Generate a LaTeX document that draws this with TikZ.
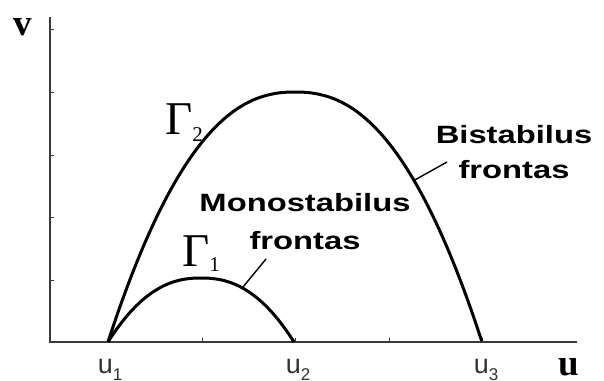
\documentclass[tikz,border=0pt]{standalone}
\usepackage{fontspec}
\setmainfont{Liberation Serif}
\newfontfamily\lsans{Liberation Sans}
\definecolor{axisgray}{HTML}{3A3A3A}
\definecolor{labelgray}{HTML}{333333}
\tikzset{
  axisline/.style={draw=axisgray, line width=2.2pt},
  tickline/.style={draw=axisgray, line width=0.8pt},
  curveline/.style={draw=black, line width=3pt},
  leaderline/.style={draw=black, line width=1.4pt},
  frontlabel/.style={anchor=base, inner sep=0pt, font=\lsans\bfseries\fontsize{25}{25}\selectfont},
  ulabel/.style={anchor=base, inner sep=0pt, text=labelgray, font=\lsans\fontsize{27}{27}\selectfont},
  gammalabel/.style={anchor=base west, inner sep=0pt, font=\fontsize{47}{47}\selectfont},
  axislabel/.style={anchor=base, inner sep=0pt, font=\bfseries\fontsize{37}{37}\selectfont}
}
\newcommand{\wide}[1]{\scalebox{1.31}[1]{#1}}
\begin{document}
\begin{tikzpicture}[x=1pt, y=-1pt]
\useasboundingbox (0,0) rectangle (604,380);
% axes
\coordinate (O) at (50,342);
\coordinate (ytop) at (50,17);
\coordinate (xend) at (577,342);
\draw[axisline] (ytop) -- (O) -- (xend);
% ticks
\foreach \yy in {29,92,155,217,280} \draw[tickline] (50,\yy) -- (54,\yy);
\foreach \xx in {108.5,202,295.5,389,482.5} \draw[tickline] (\xx,342) -- (\xx,338);
% curves
\draw[curveline, line join=round] plot[domain=-1:1, samples=100, smooth] ({295+187*\x}, {342-250*(1-pow(abs(\x),2.3))});
\draw[curveline, line join=round] plot[domain=-1:1, samples=100, smooth] ({201+93*\x}, {342-64*(1-pow(abs(\x),2.3))});
% labels
\node[axislabel] (vlab) at (23,35) {v};
\node[axislabel] (ulab) at (569,375) {u};
\node[ulabel] (u1) at (110,373) {u\raisebox{-7pt}{\fontsize{17}{17}\selectfont 1}};
\node[ulabel] (u2) at (298,373) {u\raisebox{-7pt}{\fontsize{17}{17}\selectfont 2}};
\node[ulabel] (u3) at (486,373) {u\raisebox{-7pt}{\fontsize{17}{17}\selectfont 3}};
\node[gammalabel] (g2) at (165,134) {Γ\raisebox{-7pt}{\fontsize{21}{21}\selectfont 2}};
\node[gammalabel] (g1) at (182,266) {Γ\raisebox{-5pt}{\fontsize{21}{21}\selectfont 1}};
\node[frontlabel] (mono1) at (305,211) {\wide{Monostabilus}};
\node[frontlabel] (mono2) at (305,249) {\wide{frontas}};
\node[frontlabel] (bi1) at (514,143) {\wide{Bistabilus}};
\node[frontlabel] (bi2) at (514,178) {\wide{frontas}};
% leaders
\coordinate (mA) at (266,259);
\coordinate (mB) at (243,287);
\coordinate (bA) at (447,162);
\coordinate (bB) at (413,181);
\draw[leaderline] (mA) -- (mB);
\draw[leaderline] (bA) -- (bB);
\end{tikzpicture}
\end{document}
